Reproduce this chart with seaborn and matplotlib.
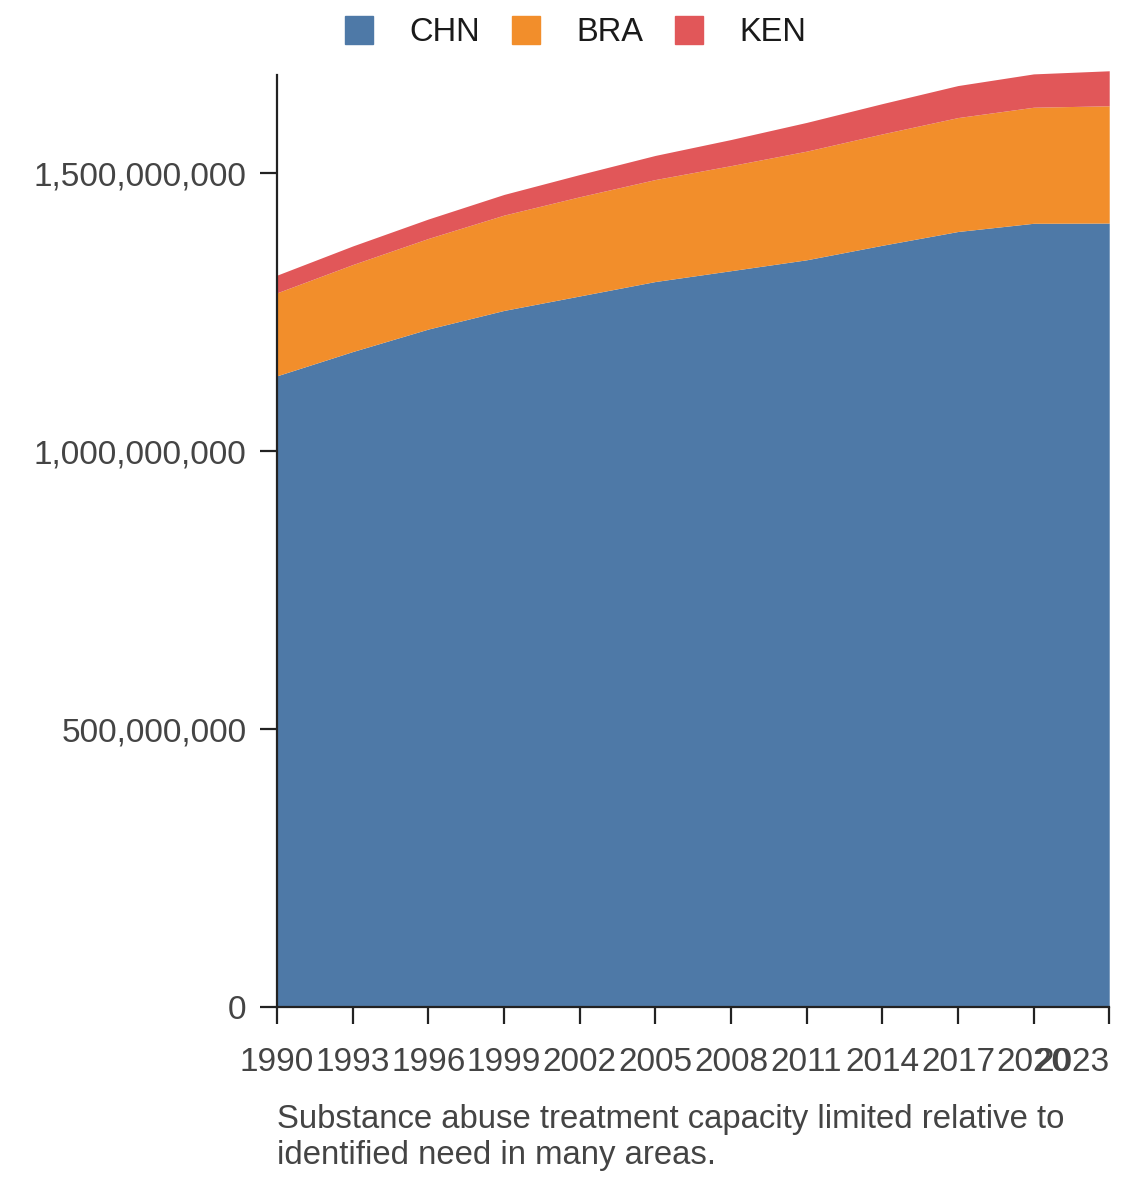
import pandas as pd
import numpy as np
import seaborn as sns
import matplotlib.pyplot as plt
from matplotlib.lines import Line2D
from matplotlib.ticker import StrMethodFormatter

# Werte
years = [1990, 1993, 1996, 1999, 2002, 2005, 2008, 2011, 2014, 2017, 2020, 2023]
chn = [1135.9, 1179.5, 1220.0, 1253.5, 1279.5, 1305.5, 1325.0, 1344.6, 1370.7, 1395.5, 1410.3, 1410.7]
bra = [149.3, 156.5, 163.0, 171.5, 178.5, 183.5, 189.0, 195.5, 200.4, 205.0, 208.8, 211.0]
ken = [31.8, 33.5, 35.0, 37.2, 40.0, 43.4, 47.0, 51.7, 54.5, 57.6, 60.0, 63.0]
countries = ['CHN', 'BRA', 'KEN']
colors = ['#4e79a7', '#f28e2b', '#e15759']
caption = "Substance abuse treatment capacity limited relative to\nidentified need in many areas."

df = pd.DataFrame({'year': years, 'CHN': chn, 'BRA': bra, 'KEN': ken})
df = df.melt(id_vars='year', var_name='country', value_name='value')
df['value'] = df['value'] * 1e6
wide = df.pivot(index='year', columns='country', values='value')[countries]

sns.set_theme(style='ticks')
plt.rcParams['font.family'] = ['Liberation Sans', 'DejaVu Sans']

fig = plt.figure(figsize=(11.4, 11.82), dpi=100)
ax = fig.add_axes([0.243, 0.148, 0.730, 0.7885])

polys = ax.stackplot(wide.index, [wide[c].values for c in countries], colors=colors, linewidth=0)
for p in polys:
    p.set_clip_on(False)

ax.set_xlim(1990, 2023)
ax.set_ylim(0, 1677e6)
ax.set_xticks(years)
ax.set_xticklabels([str(y) for y in years])
ax.get_xticklabels()[-1].set_ha('right')
ax.set_yticks([0, 500e6, 1000e6, 1500e6])
ax.yaxis.set_major_formatter(StrMethodFormatter('{x:,.0f}'))

sns.despine(ax=ax)
for s in ['left', 'bottom']:
    ax.spines[s].set_color('#222222')
    ax.spines[s].set_linewidth(1.6)
ax.tick_params(axis='both', length=12, width=1.6, color='#222222',
               labelsize=24, labelcolor='#444444')
ax.tick_params(axis='x', pad=17)
ax.tick_params(axis='y', pad=10)
ax.set_xlabel('')
ax.set_ylabel('')

handles = [Line2D([], [], marker='s', ls='', markersize=19.5, color=c) for c in colors]
fig.legend(handles, countries, loc='center', bbox_to_anchor=(0.504, 0.9725), ncol=3,
           frameon=False, fontsize=23.5, handlelength=1.0, handletextpad=1.05,
           columnspacing=0.9, borderpad=0, labelcolor='#1a1a1a')

fig.text(0.243, 1 - 1104 / 1182, caption, ha='left', va='top', fontsize=23.7,
         color='#444444', linespacing=1.2)

fig.savefig('out.png', dpi=100)
